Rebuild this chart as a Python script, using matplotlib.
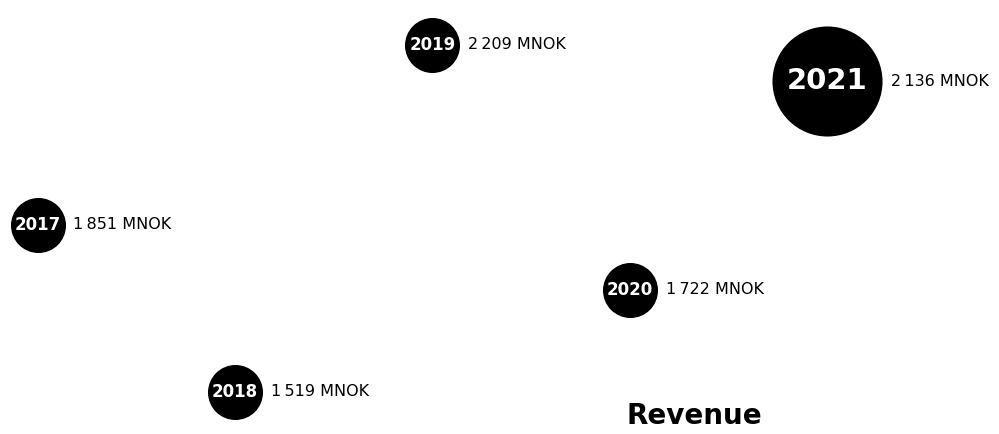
import numpy as np
import matplotlib
matplotlib.use("Agg")
import matplotlib.pyplot as plt

# Revenue per year (MNOK)
years = [2017, 2018, 2019, 2020, 2021]
revenue = [1851, 1519, 2209, 1722, 2136]
labels = ["1\u2009851 MNOK", "1\u2009519 MNOK", "2\u2009209 MNOK", "1\u2009722 MNOK", "2\u2009136 MNOK"]
# relative bubble area (latest year highlighted)
bubble_area = [1, 1, 1, 1, 4]

plt.rcParams['font.family'] = ['DejaVu Sans']

fig = plt.figure(figsize=(9.99, 4.34), dpi=100)
ax = fig.add_axes([0, 0, 1, 1])
ax.set_axis_off()
ax.set_xlim(2016.81, 2021.87)
ax.set_ylim(1434.5, 2298.1)

base_s = 1570
for yr, rev, lab, a in zip(years, revenue, labels, bubble_area):
    s = base_s * a
    ax.scatter([yr], [rev], s=s, color='black', zorder=2, linewidths=0)
    r_pt = np.sqrt(s) / 2
    big = a > 1
    ax.text(yr, rev, str(yr), color='white', ha='center', va='center',
            fontsize=21 if big else 12, fontweight='bold', zorder=3)
    ax.annotate(lab, (yr, rev), xytext=(r_pt + 6, 0), textcoords='offset points',
                ha='left', va='center', fontsize=11.5, color='black')

fig.text(694 / 999, 1 - 416 / 434, "Revenue", ha='center', va='center',
         fontsize=20, fontweight='bold')

fig.savefig('out.png', dpi=100)
